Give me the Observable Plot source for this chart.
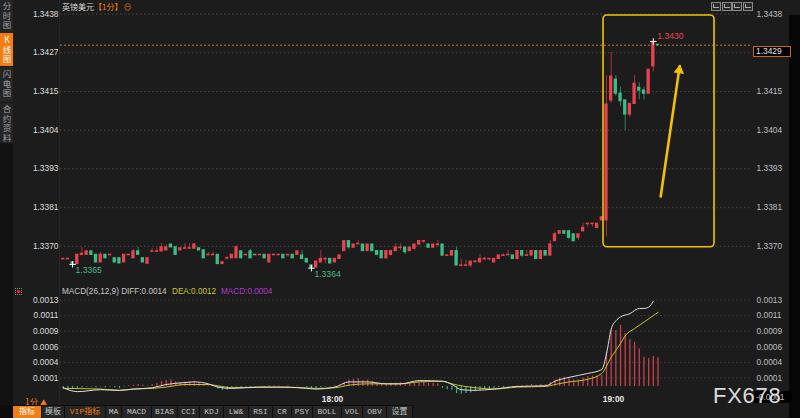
<!DOCTYPE html>
<html><head><meta charset="utf-8">
<script src="https://cdn.jsdelivr.net/npm/d3@7"></script>
<script src="https://cdn.jsdelivr.net/npm/@observablehq/plot@0.6"></script>
<style>
html,body{margin:0;padding:0;background:#1c1c1c;}
#root{position:relative;width:800px;height:418px;overflow:hidden;background:#1c1c1c;font-family:"Liberation Sans",Arial,sans-serif;}
#root > *{position:absolute;}
.cjk{font-family:"Noto Sans CJK SC","Liberation Sans",sans-serif;}
.vert{writing-mode:vertical-rl;text-orientation:upright;}
</style></head><body><div id="root"></div>
<script>
// ---------------- DATA ----------------
const firstCandle = "17:02";
const open = [1.33662,1.33662,1.33653,1.33648,1.33675,1.33675,1.33685,1.33675,1.33653,1.33675,1.33674,1.33665,1.33665,1.33653,1.33674,1.33665,1.33685,1.33665,1.33649,1.33684,1.33684,1.33685,1.33688,1.33705,1.33697,1.33688,1.33693,1.33693,1.33693,1.33694,1.33688,1.33674,1.33674,1.33675,1.33648,1.33664,1.33665,1.33665,1.33685,1.33674,1.33685,1.33675,1.33674,1.33675,1.33653,1.33674,1.33674,1.33675,1.33674,1.33675,1.33675,1.33673,1.33663,1.33644,1.33638,1.33653,1.33662,1.33663,1.33653,1.33663,1.33686,1.33715,1.33696,1.33706,1.33705,1.33686,1.33705,1.33686,1.33686,1.33665,1.33675,1.33686,1.33695,1.33696,1.33686,1.33693,1.33705,1.33714,1.33705,1.33696,1.33704,1.33705,1.33672,1.33673,1.33686,1.33643,1.33643,1.33644,1.33654,1.33653,1.33662,1.33662,1.33653,1.33663,1.33672,1.33674,1.33673,1.33663,1.33686,1.33672,1.33673,1.33686,1.33663,1.33686,1.33673,1.33715,1.33737,1.33744,1.33744,1.33735,1.33725,1.33744,1.33765,1.33765,1.33754,1.33776,1.33776,1.34127,1.34188,1.34147,1.34127,1.34086,1.34117,1.34164,1.34156,1.34147,1.34227,1.34290];
const high = [1.33665,1.33665,1.33655,1.33676,1.33697,1.33688,1.33687,1.33676,1.33682,1.33676,1.33677,1.33666,1.33666,1.33676,1.33677,1.33691,1.33697,1.33666,1.33666,1.33694,1.33695,1.33708,1.33705,1.33707,1.33698,1.33696,1.33708,1.33708,1.33708,1.33696,1.33689,1.33682,1.33683,1.33676,1.33655,1.33670,1.33676,1.33701,1.33687,1.33677,1.33691,1.33676,1.33677,1.33676,1.33676,1.33677,1.33677,1.33676,1.33676,1.33676,1.33686,1.33688,1.33664,1.33645,1.33656,1.33688,1.33668,1.33664,1.33664,1.33674,1.33716,1.33716,1.33706,1.33717,1.33706,1.33706,1.33706,1.33687,1.33688,1.33687,1.33687,1.33707,1.33707,1.33697,1.33697,1.33706,1.33716,1.33716,1.33706,1.33706,1.33717,1.33706,1.33675,1.33687,1.33697,1.33662,1.33659,1.33656,1.33659,1.33676,1.33668,1.33665,1.33664,1.33674,1.33678,1.33688,1.33674,1.33687,1.33687,1.33688,1.33687,1.33687,1.33687,1.33687,1.33717,1.33741,1.33745,1.33745,1.33745,1.33736,1.33736,1.33768,1.33767,1.33767,1.33767,1.33786,1.34200,1.34268,1.34200,1.34166,1.34128,1.34118,1.34200,1.34179,1.34166,1.34218,1.34300,1.34291];
const low = [1.33661,1.33661,1.33647,1.33647,1.33674,1.33674,1.33674,1.33652,1.33652,1.33664,1.33672,1.33650,1.33649,1.33652,1.33673,1.33664,1.33674,1.33652,1.33648,1.33683,1.33683,1.33684,1.33687,1.33696,1.33674,1.33687,1.33692,1.33692,1.33692,1.33687,1.33664,1.33673,1.33673,1.33647,1.33647,1.33660,1.33664,1.33664,1.33664,1.33672,1.33664,1.33673,1.33673,1.33664,1.33652,1.33673,1.33673,1.33664,1.33667,1.33664,1.33674,1.33662,1.33650,1.33636,1.33638,1.33652,1.33649,1.33649,1.33652,1.33662,1.33685,1.33690,1.33695,1.33705,1.33685,1.33685,1.33685,1.33674,1.33664,1.33664,1.33674,1.33685,1.33688,1.33676,1.33685,1.33688,1.33704,1.33707,1.33695,1.33695,1.33697,1.33672,1.33671,1.33672,1.33643,1.33639,1.33641,1.33637,1.33650,1.33652,1.33658,1.33658,1.33652,1.33662,1.33671,1.33673,1.33662,1.33662,1.33668,1.33671,1.33672,1.33662,1.33662,1.33672,1.33672,1.33714,1.33736,1.33736,1.33719,1.33714,1.33717,1.33743,1.33756,1.33756,1.33753,1.33775,1.33727,1.34119,1.34140,1.34109,1.34039,1.34078,1.34116,1.34129,1.34129,1.34146,1.34210,1.34288];
const close = [1.33663,1.33663,1.33649,1.33675,1.33678,1.33685,1.33675,1.33653,1.33675,1.33665,1.33675,1.33653,1.33650,1.33675,1.33675,1.33685,1.33675,1.33653,1.33665,1.33685,1.33685,1.33697,1.33697,1.33697,1.33675,1.33694,1.33694,1.33694,1.33705,1.33688,1.33665,1.33675,1.33675,1.33648,1.33653,1.33665,1.33675,1.33697,1.33665,1.33675,1.33665,1.33674,1.33675,1.33665,1.33675,1.33675,1.33675,1.33665,1.33675,1.33665,1.33685,1.33663,1.33653,1.33637,1.33655,1.33663,1.33663,1.33650,1.33663,1.33673,1.33715,1.33697,1.33705,1.33707,1.33686,1.33705,1.33686,1.33675,1.33665,1.33686,1.33686,1.33696,1.33696,1.33683,1.33696,1.33705,1.33715,1.33715,1.33696,1.33705,1.33705,1.33673,1.33673,1.33686,1.33644,1.33644,1.33644,1.33655,1.33655,1.33663,1.33663,1.33663,1.33663,1.33673,1.33673,1.33675,1.33663,1.33686,1.33673,1.33673,1.33686,1.33663,1.33686,1.33673,1.33705,1.33735,1.33744,1.33737,1.33725,1.33715,1.33735,1.33754,1.33766,1.33766,1.33766,1.33785,1.34115,1.34197,1.34147,1.34125,1.34086,1.34117,1.34176,1.34156,1.34147,1.34217,1.34295,1.34289];

const priceTicks = [1.33700,1.33813,1.33927,1.34040,1.34153,1.34267,1.34380];
const priceTickLabels = ["1.3370","1.3381","1.3393","1.3404","1.3415","1.3427","1.3438"];
const macdTicks = [0.00013,0.00037,0.00061,0.00085,0.00109,0.00133];
const macdTickLabels = ["0.0001","0.0004","0.0006","0.0009","0.0011","0.0013"];
const timeTicks = ["18:00","19:00"];

const macdHist = [-0.00003,-0.00004,-0.00005,-0.00003,-0.00002,-0.00001,
 -0.00001,-0.00002,-0.00001,-0.00002,-0.00001,-0.00002,-0.00003,-0.00001,0.00001,
 0.00002,0.00003,0.00002,0.00001,0.00003,0.00005,0.00008,0.00009,0.0001,0.00007,0.00006,0.00007,0.00007,0.00008,0.00005,
 0.00002,0.00001,0.00001,
 -0.00004,-0.00006,-0.00006,-0.00004,-0.00001,-0.00002,
 -0.00001,-0.00002,-0.00001,0,-0.00001,0.00001,0.00001,0.00001,0,0.00001,0,0.00001,0,
 -0.00002,-0.00004,-0.00003,-0.00002,-0.00001,-0.00001,
 0.00001,0.00002,0.00006,
 0.0001,0.00011,0.00012,0.00009,0.0001,0.00008,
 0.00005,0.00003,0.00004,0.00004,0.00005,0.00006,0.00004,0.00004,0.00005,0.00007,0.00007,0.00005,0.00005,0.00004,
 -0.00003,-0.00005,-0.00006,-0.00011,-0.00012,-0.00011,-0.0001,-0.00008,-0.00006,
 -0.00005,-0.00004,-0.00003,-0.00002,-0.00002,-0.00001,-0.00001,
 0.00001,0.00001,0.00002,0.00003,0.00002,0.00003,0.00003,0.00006,
 0.0001,0.00013,0.00014,0.00012,0.0001,0.0001,0.00013,0.00015,0.00016,0.00016,0.00017,
 0.00053,0.00087,0.00086,0.00094,0.00081,0.00072,0.00068,0.00058,0.00045,0.00043,0.00046,0.00044];

const diffIdx = [0,3,8,12,15,19,22,26,28,31,33,36,42,48,52,54,58,61,65,69,72,76,81,83,85,88,92,97,103,105,108,112,115,116,117,118,119,121,123,124,125,126];
const diffVal = [-0.00002,-0.00008,-0.00005,-0.00006,-0.00004,-0.00002,0.00003,0.00006,0.00007,0.00004,-0.00001,-0.00003,-0.00001,-0.00001,-0.00003,-0.00004,-0.00001,0.00007,0.00007,0.00004,0.00004,0.00009,0.00008,0.00003,-0.00005,-0.00006,-0.00004,0,0.00001,0.00008,0.00014,0.0002,0.00026,0.0005,0.00088,0.00101,0.00107,0.00112,0.0012,0.0012,0.00122,0.00131];
const deaIdx = [0,8,12,15,19,22,26,31,33,36,42,51,54,58,61,65,72,76,81,83,88,92,97,103,105,108,112,115,117,119,120,122,124,126,127];
const deaVal = [-0.00003,-0.00004,-0.00006,-0.00004,-0.00003,-0.00001,0.00003,0.00003,0.00001,-0.00002,-0.00001,-0.00002,-0.00003,-0.00002,0.00002,0.00004,0.00004,0.00007,0.00008,0.00004,-0.00002,-0.00004,-0.00001,0,0.00003,0.00007,0.00011,0.0002,0.00045,0.00066,0.00078,0.00089,0.00099,0.00109,0.00114];

const macdLegend = {params: "MACD(26,12,9)", diff: "0.0014", dea: "0.0012", macd: "0.0004"};
const macdCurrentTag = "-0.0001";
const lowMarkIdx = [2, 53];
const highMarkIdx = [126];
// annotation (minutes after 17:00 / price)
const boxMinutes = [117.87, 141.57];
const boxPrices = [1.33697, 1.34376];
const arrowMinutes = [130.04, 134.16];
const arrowPrices = [1.33843, 1.34230];

const sideTabs = ["分时图","K线图","闪电图","合约资料"];
const toolbarLabels = ["指标","模板","VIP指标","MA","MACD","BIAS","CCI","KDJ","LW&","RSI","CR","PSY","BOLL","VOL","OBV","设置"];
const titleName = "英镑美元", titlePeriod = "【1分】";

// ---------------- HELPERS ----------------
const UP = "#e8434f", DOWN = "#3dbd86";
const toMin = s => (+s.slice(0,2) - 17) * 60 + (+s.slice(3,5));
const t0 = toMin(firstCandle);
const candles = open.map((o,i) => ({i, t: t0 + i + 0.5, o, h: high[i], l: low[i], c: close[i]}));
const upC = candles.filter(d => d.c >= d.o), dnC = candles.filter(d => d.c < d.o);
const timeVals = timeTicks.map(toMin);
const xScale = {domain: timeVals, range: [332, 613], axis: null};
const FONT = '"Liberation Sans", Arial, sans-serif';
const root = document.getElementById("root");
function el(tag, css, html, cls) { const e = document.createElement(tag); e.style.cssText = css; if (html != null) e.innerHTML = html; if (cls) e.className = cls; root.appendChild(e); return e; }

// ---------------- MAIN CHART ----------------
const current = close[close.length - 1];
const rightPriceTicks = priceTicks.filter(t => Math.abs(t - current) > 0.0003); // one is hidden under the price tag
const lowMarks = lowMarkIdx.map(i => candles[i]);
const highMarks = highMarkIdx.map(i => candles[i]);
const main = Plot.plot({
  width: 800, height: 283, marginLeft: 60, marginRight: 48, marginTop: 0, marginBottom: 0,
  style: {background: "transparent", color: "#ccc", fontSize: "8.4px", fontFamily: FONT, overflow: "visible"},
  x: xScale,
  y: {domain: [priceTicks[0], priceTicks[6]], range: [245.8, 13.6], axis: null},
  marks: [
    Plot.gridY(priceTicks, {stroke: "#4a4a4a", strokeOpacity: 1, strokeDasharray: "1.5,2.5"}),
    Plot.axisY(priceTicks, {anchor: "left", tickSize: 0, tickPadding: 2, label: null, fill: "#dcdcdc", tickFormat: d => priceTickLabels[priceTicks.indexOf(d)]}),
    Plot.axisY(rightPriceTicks, {anchor: "right", tickSize: 0, tickPadding: 4, label: null, fill: "#bdbdbd", tickFormat: d => priceTickLabels[priceTicks.indexOf(d)]}),
    Plot.ruleY([current], {stroke: "#c8782e", strokeDasharray: "2,2", strokeWidth: 1}),
    Plot.ruleX(upC, {x: "t", y1: "l", y2: "h", stroke: UP, strokeOpacity: 0.65}),
    Plot.ruleX(dnC, {x: "t", y1: "l", y2: "h", stroke: DOWN, strokeOpacity: 0.65}),
    Plot.rect(upC, {x1: d => d.t - 0.5, x2: d => d.t + 0.5, y1: "o", y2: "c", insetLeft: 0.7, insetRight: 0.7, insetTop: -0.6, insetBottom: -0.6, fill: UP}),
    Plot.rect(dnC, {x1: d => d.t - 0.5, x2: d => d.t + 0.5, y1: "o", y2: "c", insetLeft: 0.7, insetRight: 0.7, insetTop: -0.6, insetBottom: -0.6, fill: DOWN}),
    Plot.dot(lowMarks, {x: "t", y: "l", symbol: "plus", r: 2.2, stroke: "#ffffff", strokeWidth: 1}),
    Plot.dot(highMarks, {x: "t", y: "h", symbol: "plus", r: 2.2, stroke: "#ffffff", strokeWidth: 1}),
    Plot.text(lowMarks, {x: "t", y: "l", text: d => d.l.toFixed(4), dx: 3, dy: 6, textAnchor: "start", fill: "#4cb884", fontSize: 8.6}),
    Plot.text(highMarks, {x: "t", y: "h", text: d => d.h.toFixed(4), dx: 4, dy: -5, textAnchor: "start", fill: "#e8434f", fontSize: 8.6}),
    Plot.rect([0], {x1: boxMinutes[0], x2: boxMinutes[1], y1: boxPrices[0], y2: boxPrices[1], fill: "none", stroke: "#f2c200", strokeWidth: 1.6, rx: 4}),
    Plot.link([0], {x1: arrowMinutes[0], y1: arrowPrices[0], x2: arrowMinutes[1], y2: arrowPrices[1], stroke: "#f2c200", strokeWidth: 2.6}),
    Plot.dot([0], {x: arrowMinutes[1], y: arrowPrices[1], symbol: "triangle", r: 3.9, fill: "#f2c200", stroke: "none", rotate: 8.3, dy: 5, dx: -0.6})
  ]
});
main.style.left = "0px"; main.style.top = "0px";
root.appendChild(main);
const yCur = main.scale("y").apply(current);

// ---------------- MACD CHART ----------------
const histData = macdHist.map((v,i) => ({t: t0 + i + 0.5, v}));
const diffData = diffIdx.map((c,k) => ({t: t0 + c + 0.5, v: diffVal[k]}));
const deaData = deaIdx.map((c,k) => ({t: t0 + c + 0.5, v: deaVal[k]}));
const macd = Plot.plot({
  width: 800, height: 122, marginLeft: 60, marginRight: 48, marginTop: 0, marginBottom: 11,
  style: {background: "transparent", color: "#ccc", fontSize: "8.4px", fontFamily: FONT, overflow: "visible"},
  x: xScale,
  y: {domain: [macdTicks[0], macdTicks[5]], range: [94.5, 16.5], axis: null},
  marks: [
    Plot.gridY(macdTicks, {stroke: "#3e3e3e", strokeOpacity: 1, strokeDasharray: "1.5,2.5"}),
    Plot.axisY(macdTicks, {anchor: "left", tickSize: 0, tickPadding: 2, label: null, fill: "#dcdcdc", tickFormat: d => macdTickLabels[macdTicks.indexOf(d)]}),
    Plot.axisY(macdTicks, {anchor: "right", tickSize: 0, tickPadding: 4, label: null, fill: "#bdbdbd", tickFormat: d => macdTickLabels[macdTicks.indexOf(d)]}),
    Plot.ruleX(histData.filter(d => d.v > 0), {x: "t", y1: 0, y2: "v", stroke: "#c8404c", strokeWidth: 1.3}),
    Plot.ruleX(histData.filter(d => d.v < 0), {x: "t", y1: 0, y2: "v", stroke: "#37a878", strokeWidth: 1.3}),
    Plot.line(deaData, {x: "t", y: "v", stroke: "#c8c220", strokeWidth: 1, curve: "monotone-x"}),
    Plot.line(diffData, {x: "t", y: "v", stroke: "#dedede", strokeWidth: 1, curve: "monotone-x"}),
    Plot.axisX(timeVals, {anchor: "bottom", tickSize: 0, tickPadding: 2, label: null, fill: "#e8e8e8", fontWeight: "bold", tickFormat: d => timeTicks[timeVals.indexOf(d)]})
  ]
});
macd.style.left = "0px"; macd.style.top = "283px";
root.appendChild(macd);

// ---------------- DECORATION ----------------
// sidebar
el("div", "left:0;top:0;width:13px;height:143px;background:#252525;");
el("div", "left:0;top:143px;width:13px;height:262px;background:#121212;");
el("div", "left:59px;top:0;width:1px;height:405px;background:#262626;");
const tabGeom = [[0,33,2],[33,33,36],[67,35,69.5],[102,41,105]];
sideTabs.forEach((s,k) => {
  const [top,h,tt] = tabGeom[k];
  const active = k === 1;
  if (active) el("div", `left:0;top:${top}px;width:13px;height:${h}px;background:#f27d12;`);
  el("div", `left:0;top:${top+h}px;width:13px;height:1px;background:#151515;`);
  el("div", `left:1px;top:${tt}px;width:11px;font-size:8.5px;line-height:11px;letter-spacing:1px;color:${active?"#fff":"#a0a0a0"};`, s, "cjk vert");
});
// title
el("div", "left:62px;top:0px;font-size:8px;line-height:13px;color:#d4d4d4;white-space:nowrap;", `${titleName}<span style="color:#ef7a15">${titlePeriod}</span><span style="color:#ef7a15;margin-left:1px">⊖</span>`, "cjk");
// top-right icons
[711,721.7,732.3,743.3].forEach(x => {
  el("div", `left:${x}px;top:2px;width:8px;height:7px;border:1px solid #8a8a8a;background:#2a2a2a;`);
  el("div", `left:${x+2}px;top:4px;width:5px;height:3px;border-left:1px solid #aaa;border-bottom:1px solid #aaa;`);
});
// right strip
el("div", "left:789px;top:15px;width:11px;height:403px;background:#070707;");
// current price tag
el("div", `left:753px;top:${yCur+1}px;width:34px;height:9px;border:1px solid #c8661c;background:#000;color:#e6e6e6;font-size:8.4px;line-height:9px;padding-left:2px;`, current.toFixed(4));
// MACD legend
el("div", "left:15px;top:288px;width:5px;height:5px;border:1px dotted #888;");
el("div", "left:17px;top:290px;width:3px;height:3px;background:#e02030;");
el("div", "left:62px;top:287px;font-size:8.2px;line-height:10px;color:#c8c8c8;white-space:nowrap;", `${macdLegend.params} DIFF:${macdLegend.diff}`);
el("div", "left:172px;top:287px;font-size:8.2px;line-height:10px;color:#c8c828;white-space:nowrap;", `DEA:${macdLegend.dea}`);
el("div", "left:221px;top:287px;font-size:8.2px;line-height:10px;color:#b23ad0;white-space:nowrap;", `MACD:${macdLegend.macd}`);
// period selector
el("div", "left:25px;top:395px;font-size:8.4px;line-height:12px;color:#f07a12;white-space:nowrap;", "1分 <span style='font-size:7px'>▲</span>", "cjk");
// toolbar
const cellEdges = [13,42,65,106,122,152,178,200,224,249,273,292,313,342,363,387,413];
el("div", "left:0;top:405px;width:13px;height:13px;background:#0c0c0c;");
el("div", "left:13px;top:405px;width:400px;height:13px;background:#0e0e0e;");
toolbarLabels.forEach((s,k) => {
  const x0 = cellEdges[k], x1 = cellEdges[k+1];
  const bg = k === 0 ? "#f27d12" : "#262626";
  const col = k === 0 ? "#fff" : (k === 2 ? "#f07a12" : "#c4c4c4");
  el("div", `left:${x0}px;top:406px;width:${x1-x0-1}px;height:12px;background:${bg};color:${col};font-size:8px;line-height:12px;text-align:center;white-space:nowrap;font-family:'Liberation Mono','Noto Sans CJK SC',monospace;`, s.replace("&","&amp;"));
});
// MACD current-value tag (mostly covered by the watermark, as in the original)
el("div", "left:754px;top:391px;width:36px;height:12px;background:#000;color:#bbb;font-size:8.4px;line-height:12px;padding-left:2px;", macdCurrentTag);
// watermark
el("div", "left:713px;top:385px;font-size:22px;line-height:21px;letter-spacing:0.7px;color:rgba(238,238,238,0.93);white-space:nowrap;", "FX678");
</script></body></html>
